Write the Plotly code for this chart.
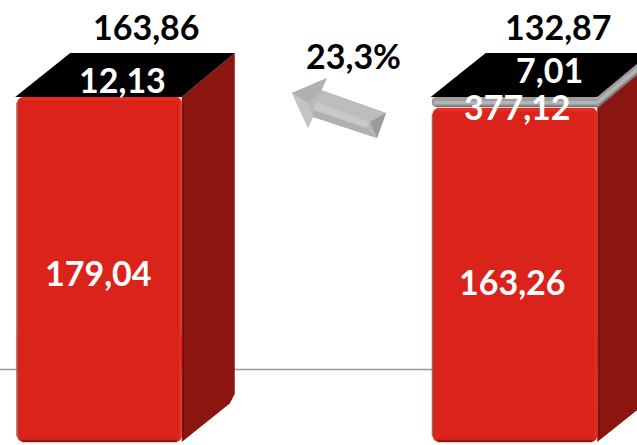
import plotly.graph_objects as go

# --- data ---
positions = [0, 1]
red_values = [179.04, 163.26]
gray_heights = [0.0, 15.78]          # drawn band height of the gray segment
total_labels = ["163,86", "132,87"]
black_labels = ["12,13", "7,01"]
gray_labels = ["", "377,12"]
red_labels = ["179,04", "163,26"]
change_label = "23,3%"

W, H = 637, 445
PX_PER_UNIT = 0.697
PX_PER_POS = 415.5
X0_PX, TOP_PX = 99.5, 97
FLOOR = 179.04 - 345 / PX_PER_UNIT
y_bottom = 179.04 - (H - TOP_PX) / PX_PER_UNIT
y_top = 179.04 + TOP_PX / PX_PER_UNIT
x_left = -X0_PX / PX_PER_POS
x_right = (W - X0_PX) / PX_PER_POS
BAR_W = 164.5 / PX_PER_POS
DX = 53 / PX_PER_POS
DY = 44 / PX_PER_UNIT
LINE_Y = 179.04 - (369.5 - TOP_PX) / PX_PER_UNIT

RED, RED_DK, RED_LT = "#da241b", "#8b150f", "#ee2a1f"
FONT = "Lato"


def px(x, y):
    return x / W, 1 - y / H


fig = go.Figure()


def poly(xs, ys, color):
    fig.add_trace(go.Scatter(x=xs, y=ys, mode="lines", fill="toself", fillcolor=color,
                             line=dict(width=0, color=color), hoverinfo="skip", showlegend=False))


def seg(xs, ys, color, width):
    fig.add_trace(go.Scatter(x=xs, y=ys, mode="lines", line=dict(color=color, width=width),
                             hoverinfo="skip", showlegend=False))


# side faces and top faces, built from the values
for p, r, g in zip(positions, red_values, gray_heights):
    l, rt = p - BAR_W / 2, p + BAR_W / 2
    top = r + g
    poly([rt, rt + DX, rt + DX, rt + DX - 0.012, rt],
         [r, r + DY, FLOOR + DY + 6, FLOOR + DY - 8, FLOOR],
         RED_DK)
    if g:
        poly([rt, rt + DX, rt + DX, rt], [top, top + DY, r + DY, r], "#9c9c9c")
        seg([rt, rt + DX], [r + g * 0.5, r + g * 0.5 + DY], "#b4b4b4", 3)
        seg([rt, rt + DX], [r + 1, r + 1 + DY], "#6e6e6e", 1.5)
    poly([l - 0.005, l + DX, rt + DX, rt], [top, top + DY, top + DY, top], "#000000")

# front faces: lower part rounds the bottom, upper part rounds the top (they overlap)
upper_base = [FLOOR + 100 for _ in positions]
lower_base = [FLOOR + 160 for _ in positions]
fig.add_trace(go.Bar(x=positions, y=[FLOOR - m for m in lower_base], base=lower_base,
                     width=BAR_W, marker=dict(color=RED, cornerradius=6, line=dict(width=0)),
                     hoverinfo="skip", showlegend=False))
fig.add_trace(go.Bar(x=positions, y=[r - m for r, m in zip(red_values, upper_base)], base=upper_base,
                     width=BAR_W, marker=dict(color=RED, cornerradius=6, line=dict(width=0)),
                     hoverinfo="skip", showlegend=False))
# gray band on the front
for p, r, g in zip(positions, red_values, gray_heights):
    if g:
        fig.add_trace(go.Bar(x=[p], y=[g - 1.5], base=[r + 1.5], width=BAR_W + 0.004,
                             marker=dict(color="#9c9c9c", cornerradius=4, line=dict(width=0)),
                             hoverinfo="skip", showlegend=False))
        l, rt = p - BAR_W / 2, p + BAR_W / 2
        seg([l + 0.004, rt], [r + g * 0.5, r + g * 0.5], "#b4b4b4", 3)
        seg([l + 0.008, rt], [r + 2.2, r + 2.2], "#6e6e6e", 1.5)

# bevel edges
for p, r in zip(positions, red_values):
    l, rt = p - BAR_W / 2, p + BAR_W / 2
    e = 0.004
    seg([l + 0.012, rt - 0.006], [r - 2.5, r - 2.5], RED_LT, 3)
    seg([rt - e, rt - e], [r - 4, FLOOR + 6], RED_LT, 2)
    seg([l - 0.001, l - 0.001], [r - 8, FLOOR + 8], "#a0605a", 1.2)
    seg([l + 0.012, rt - 0.012], [FLOOR + 1.5, FLOOR + 1.5], "#8f1a12", 2.5)
    seg([rt + 0.004, rt + 0.004], [r - 6, FLOOR + 6], "#6f100b", 1)

# decorative block arrow
facets = [
    ([(292, 93), (327, 78), (321, 90), (386, 113), (377, 138), (313, 117), (308, 128)], "#b8b8b8"),
    ([(292, 93), (327, 78), (321, 91), (308, 103)], "#b0b0b0"),
    ([(292, 93), (308, 103), (313, 117), (308, 128)], "#c4c4c4"),
    ([(321, 90), (386, 113), (370, 122), (316, 102)], "#bdbdbd"),
    ([(316, 102), (370, 122), (366, 128), (313, 110)], "#c8c8c8"),
    ([(313, 110), (366, 128), (377, 138), (313, 117)], "#b0b0b0"),
    ([(386, 113), (377, 138), (370, 122)], "#9a9a9a"),
]
shapes = [dict(type="line", xref="x", yref="y", x0=x_left, x1=x_right, y0=LINE_Y, y1=LINE_Y,
               line=dict(color="#9a9a9a", width=1.4), layer="below")]
for pts, col in facets:
    path = "M " + " L ".join("%.4f,%.4f" % px(*q) for q in pts) + " Z"
    shapes.append(dict(type="path", xref="paper", yref="paper", path=path,
                       fillcolor=col, line=dict(width=0), layer="above"))

# labels
def label(text, x, y, color, size=34):
    a, b = px(x, y)
    fig.add_annotation(text=text, x=a, y=b, xref="paper", yref="paper", showarrow=False,
                       xanchor="center", yanchor="middle",
                       font=dict(family=FONT, size=size, color=color, weight=700))


label(total_labels[0], 146, 27, "#000000")
label(total_labels[1], 558.5, 27, "#000000")
label(black_labels[0], 122.5, 79, "#ffffff")
label(black_labels[1], 549.5, 70, "#ffffff")
label(gray_labels[1], 517.5, 106, "#ffffff")
label(red_labels[0], 98, 272, "#ffffff")
label(red_labels[1], 512, 281, "#ffffff")
label(change_label, 353, 56, "#000000")

fig.update_layout(
    width=W, height=H, margin=dict(l=0, r=0, t=0, b=0),
    paper_bgcolor="#ffffff", plot_bgcolor="#ffffff", barmode="overlay", showlegend=False,
    xaxis=dict(range=[x_left, x_right], visible=False, fixedrange=True),
    yaxis=dict(range=[y_bottom, y_top], visible=False, fixedrange=True),
    shapes=shapes,
)
fig.write_html("out.html", config={"displayModeBar": False},
               default_width="%dpx" % W, default_height="%dpx" % H,
               post_script="document.body.style.margin='0';document.body.style.overflow='hidden';")
